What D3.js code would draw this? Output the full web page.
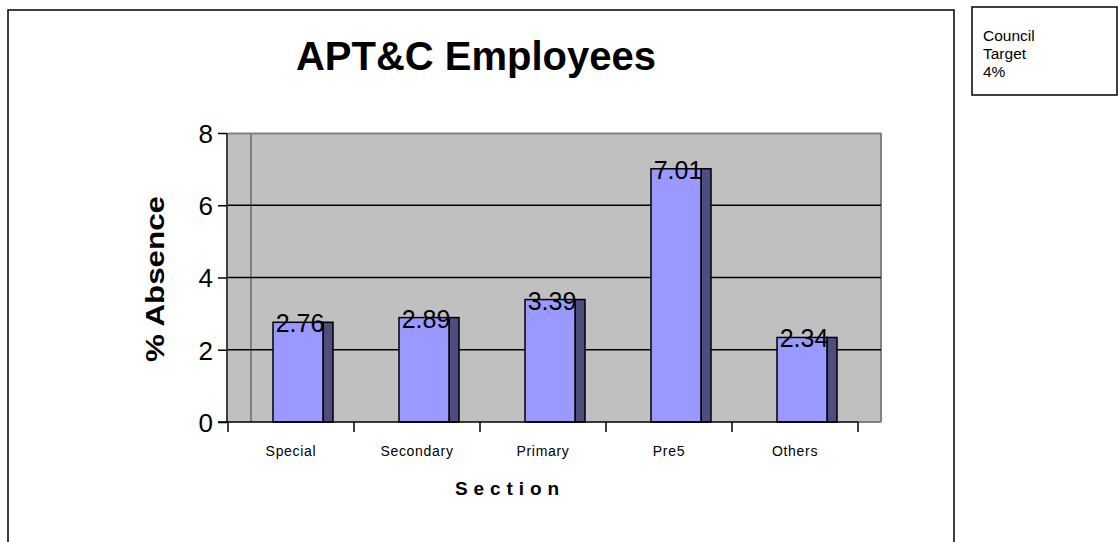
<!DOCTYPE html>
<html><head><meta charset="utf-8">
<script src="https://cdn.jsdelivr.net/npm/d3@7"></script>
<style>body{margin:0;background:#fff;}svg{display:block;font-family:Arial,"Liberation Sans",sans-serif;}</style>
</head><body>
<svg id="c" width="1118" height="542"></svg>
<script>
const categories = ["Special","Secondary","Primary","Pre5","Others"];
const values = [2.76, 2.89, 3.39, 7.01, 2.34];
const yTicks = [0,2,4,6,8];
const title = "APT&C Employees";
const yTitle = "% Absence";
const xTitle = "Section";
const noteLines = ["Council","Target","4%"];

const svg = d3.select("#c");
const L = 228, R = 858, T = 133, B = 422, depth = 23;
const x = d3.scaleBand().domain(categories).range([L, R]).padding(0);
const y = d3.scaleLinear().domain([0, 8]).range([B, T]);

// outer frame
svg.append("rect").attr("x",8).attr("y",10).attr("width",946).attr("height",560)
  .attr("fill","none").attr("stroke","#000").attr("stroke-width",1.5);
// note box
svg.append("rect").attr("x",972).attr("y",7).attr("width",145).attr("height",88)
  .attr("fill","#fff").attr("stroke","#000").attr("stroke-width",1.5);
svg.selectAll("text.note").data(noteLines).join("text").attr("class","note")
  .attr("x",983).attr("y",(d,i)=>41+i*18).attr("font-size",15.5).text(d=>d);

// title
svg.append("text").attr("x",476).attr("y",70).attr("text-anchor","middle")
  .attr("font-size",40).attr("font-weight","bold").text(title);

// plot background (walls)
svg.append("rect").attr("x",L).attr("y",T).attr("width",R+depth-L).attr("height",B-T).attr("fill","#c0c0c0");
// back wall edges
svg.append("line").attr("x1",L+depth).attr("x2",L+depth).attr("y1",T).attr("y2",B).attr("stroke","#808080").attr("stroke-width",2);
svg.append("line").attr("x1",L).attr("x2",R+depth).attr("y1",T+0.5).attr("y2",T+0.5).attr("stroke","#808080").attr("stroke-width",2);
svg.append("line").attr("x1",R+depth).attr("x2",R+depth).attr("y1",T).attr("y2",B).attr("stroke","#808080").attr("stroke-width",2);
svg.append("line").attr("x1",R).attr("x2",R+depth).attr("y1",B).attr("y2",B).attr("stroke","#808080").attr("stroke-width",2);

// gridlines
svg.selectAll("line.grid").data(yTicks.filter(t=>t>0 && t<8)).join("line").attr("class","grid")
  .attr("x1",L).attr("x2",R+depth).attr("y1",d=>y(d)).attr("y2",d=>y(d))
  .attr("stroke","#000").attr("stroke-width",1.5);

// bars
const fx = c => x(c) + 45, bw = 50, sw = 10;
const g = svg.append("g");
g.selectAll("rect.side").data(values).join("rect").attr("class","side")
  .attr("x",(d,i)=>fx(categories[i])+bw).attr("y",d=>y(d)).attr("width",sw).attr("height",d=>B-y(d))
  .attr("fill","#4d4d80").attr("stroke","#000").attr("stroke-width",1.5);
g.selectAll("rect.front").data(values).join("rect").attr("class","front")
  .attr("x",(d,i)=>fx(categories[i])).attr("y",d=>y(d)).attr("width",bw).attr("height",d=>B-y(d))
  .attr("fill","#9999ff").attr("stroke","#000").attr("stroke-width",1.5);

// axes
const ya = d3.axisLeft(y).tickValues(yTicks).tickSize(9).tickFormat(d3.format("d"));
const yg = svg.append("g").attr("transform",`translate(${L-1},0)`).call(ya);
yg.select(".domain").attr("stroke","#000").attr("stroke-width",1.5).attr("d",`M0,${T}V${B}`);
yg.selectAll(".tick line").attr("stroke","#000").attr("stroke-width",1.5);
yg.selectAll(".tick text").attr("font-size",26).attr("fill","#000").attr("font-family","Arial,'Liberation Sans',sans-serif").attr("x",-14).attr("dy","0.36em");

const xa = d3.axisBottom(x).tickSize(0).tickFormat(d=>d);
const xg = svg.append("g").attr("transform",`translate(0,${B})`).call(xa);
xg.select(".domain").attr("stroke","#000").attr("stroke-width",1.5).attr("d",`M${L-10},0H${R}`);
xg.selectAll(".tick text").attr("font-size",14).attr("letter-spacing",0.7).attr("fill","#000").attr("font-family","Arial,'Liberation Sans',sans-serif").attr("y",34).attr("dy",0);
// category boundary ticks
const bounds = categories.map(c=>x(c)).concat([R]);
xg.selectAll("line.bt").data(bounds).join("line").attr("class","bt")
  .attr("x1",d=>d).attr("x2",d=>d).attr("y1",0).attr("y2",10).attr("stroke","#000").attr("stroke-width",1.5);

// value labels
svg.selectAll("text.val").data(values).join("text").attr("class","val")
  .attr("x",(d,i)=>fx(categories[i])+bw/2+2).attr("y",d=>y(d)+10).attr("text-anchor","middle")
  .attr("font-size",25).text(d=>d.toFixed(2));

// axis titles
svg.append("text").attr("transform","translate(164,279) rotate(-90)").attr("text-anchor","middle")
  .attr("font-size",26).attr("font-weight","bold").attr("textLength",166).attr("lengthAdjust","spacingAndGlyphs").text(yTitle);
svg.append("text").attr("x",507).attr("y",495).attr("text-anchor","middle")
  .attr("font-size",19).attr("font-weight","bold").attr("textLength",104).attr("lengthAdjust","spacing").text(xTitle);
</script>
</body></html>
